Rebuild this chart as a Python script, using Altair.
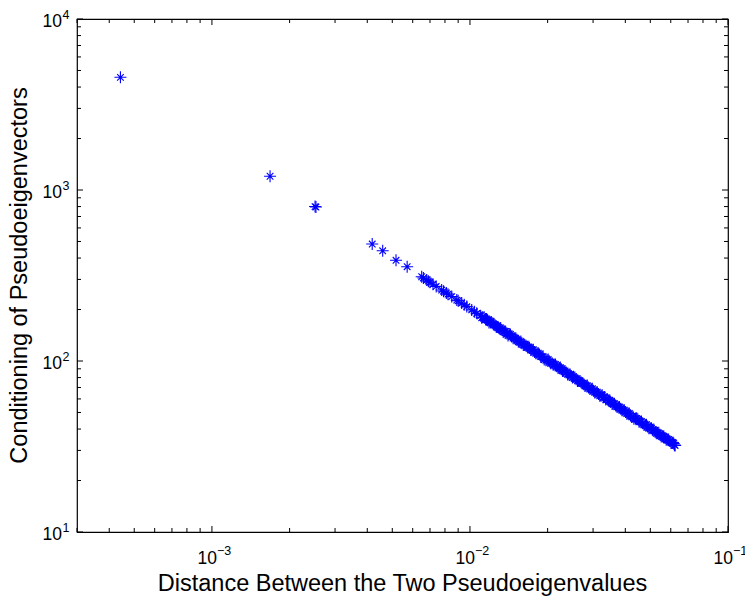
import altair as alt
import pandas as pd

# Distance between the two pseudoeigenvalues and conditioning of the pseudoeigenvectors
distance = [
    0.000442, 0.00168, 0.00251, 0.00253, 0.00418, 0.00459, 0.00517, 0.00571,
    0.00650, 0.00660, 0.00680, 0.00690, 0.00700, 0.00719, 0.00740, 0.00777,
    0.00790, 0.00810, 0.00822, 0.00850, 0.00889, 0.00900, 0.00929, 0.00950,
    0.00972, 0.01016, 0.01040, 0.01062,
    0.0110, 0.0112, 0.0115, 0.0117, 0.0120, 0.0122, 0.0125, 0.0128, 0.0129, 0.0130,
    0.0133, 0.0136, 0.0139, 0.0142, 0.0145, 0.0149, 0.0152, 0.0156, 0.0159, 0.0163,
    0.0165, 0.0167, 0.0170, 0.0174, 0.0178, 0.0182, 0.0186, 0.0190, 0.0194, 0.0199,
    0.0203, 0.0208, 0.0210, 0.0212, 0.0217, 0.0222, 0.0226, 0.0231, 0.0236, 0.0242,
    0.0247, 0.0252, 0.0258, 0.0264, 0.0270, 0.0273, 0.0276, 0.0282, 0.0288, 0.0295,
    0.0301, 0.0308, 0.0315, 0.0322, 0.0329, 0.0336, 0.0344, 0.0348, 0.0351, 0.0359,
    0.0367, 0.0375, 0.0384, 0.0392, 0.0401, 0.0410, 0.0419, 0.0428, 0.0432, 0.0438,
    0.0447, 0.0457, 0.0467, 0.0478, 0.0488, 0.0499, 0.0505, 0.0510, 0.0522, 0.0533,
    0.0545, 0.0557, 0.0563, 0.0570, 0.0582, 0.0595, 0.0608, 0.0616, 0.0624,
    0.0111, 0.01135, 0.0116, 0.01185, 0.0121, 0.01235, 0.01265, 0.01315, 0.01345,
    0.01375, 0.01405, 0.01435, 0.0147, 0.01505, 0.0154, 0.01575, 0.0161, 0.0169,
    0.0172, 0.0176, 0.0180, 0.0184, 0.0188, 0.0192, 0.0197, 0.0201, 0.02055,
    0.02145, 0.02195, 0.0224, 0.02285, 0.02335, 0.0239, 0.02445, 0.02495, 0.0255,
    0.0261, 0.0267, 0.0279, 0.0285, 0.02915, 0.0298, 0.03045, 0.03115, 0.03185,
    0.03255, 0.03325, 0.0340, 0.03555, 0.0363, 0.0371, 0.03795, 0.0388, 0.03965,
    0.04055, 0.04145, 0.04235, 0.04425, 0.0452, 0.0462, 0.04725, 0.0483, 0.04935,
    0.05155, 0.05275, 0.0539, 0.0551, 0.05635, 0.0576, 0.05885, 0.06015, 0.0612,
    0.0620,
]
conditioning = [
    4560, 1203, 800, 795, 483, 441, 388, 356,
    311, 306, 298, 293, 289, 281, 273, 260,
    256, 250, 246, 238, 227, 225, 218, 213,
    208, 199, 194, 190,
    184, 180, 176, 173, 168, 166, 162, 158, 157, 155,
    152, 149, 145, 144, 139, 136, 133, 129, 127, 124,
    123, 121, 119, 116, 113, 111, 109, 106, 102, 101.5,
    99.5, 97, 95, 95.3, 93.1, 91, 89.4, 87.4, 85.6, 83.5,
    81.8, 81.0, 78.3, 76.5, 74.8, 74.0, 73.2, 71.6, 70.1, 68.5,
    67.1, 65.6, 64.1, 62.7, 61.4, 59.5, 58.7, 58.9, 57.5, 56.3,
    55.0, 53.9, 52.6, 51.5, 50.4, 49.3, 48.2, 47.2, 46.0, 46.1,
    45.6, 44.2, 43.3, 42.3, 41.4, 40.5, 40.4, 39.6, 38.4, 37.9,
    37.1, 36.3, 35.8, 35.4, 34.7, 34.0, 33.2, 32.9, 32.1,
    179, 180, 176, 168, 169, 165, 158, 156, 148,
    149, 141, 143, 136, 136, 129.5, 130, 124, 121,
    116, 116.5, 111, 111, 106, 106.5, 101, 102, 97,
    95.5, 91, 91.5, 87.5, 87.5, 83.5, 83.5, 80, 80,
    76.5, 76.5, 71.5, 71.8, 68.5, 68.8, 65.5, 65.7, 62.6,
    63, 61.5, 60, 56.1, 56.3, 54, 53.8, 51.5, 51.5,
    49.2, 49.3, 47.1, 46.2, 44.1, 44.3, 42.2, 42.4, 40.4,
    39.7, 37.8, 38, 36.2, 36.3, 34.6, 34.8, 33.2, 33.4,
    32.2,
]

# Axis ticks and their labels
x_major = [1e-3, 1e-2, 1e-1]
x_major_exp = ["\u22123", "\u22122", "\u22121"]
x_minor = [3e-4, 4e-4, 5e-4, 6e-4, 7e-4, 8e-4, 9e-4,
           2e-3, 3e-3, 4e-3, 5e-3, 6e-3, 7e-3, 8e-3, 9e-3,
           2e-2, 3e-2, 4e-2, 5e-2, 6e-2, 7e-2, 8e-2, 9e-2]
y_major = [10, 100, 1000, 10000]
y_major_exp = ["1", "2", "3", "4"]
y_minor = [20, 30, 40, 50, 60, 70, 80, 90,
           200, 300, 400, 500, 600, 700, 800, 900,
           2000, 3000, 4000, 5000, 6000, 7000, 8000, 9000]

x_title = "Distance Between the Two Pseudoeigenvalues"
y_title = "Conditioning of Pseudoeigenvectors"

W, H = 651, 513
FONT = "Liberation Sans"
MAJOR_LEN, MINOR_LEN = 6, 4

xs = alt.Scale(type="log", domain=[3e-4, 1e-1], nice=False)
ys = alt.Scale(type="log", domain=[10, 1e4], nice=False)

# asterisk marker: plus with shorter diagonals
star = "M-1,0L1,0M0,-1L0,1M-0.55,-0.55L0.55,0.55M-0.55,0.55L0.55,-0.55"

points = alt.Chart(pd.DataFrame({"d": distance, "c": conditioning})).mark_point(
    shape=star, size=144, filled=False, color="#0000ff", strokeWidth=1.1, opacity=1
).encode(
    x=alt.X("d:Q", scale=xs, axis=None),
    y=alt.Y("c:Q", scale=ys, axis=None),
)


def x_ticks(values, length):
    base = alt.Chart(pd.DataFrame({"v": values})).mark_rule(color="black", strokeWidth=1)
    xe = alt.X("v:Q", scale=xs, axis=None)
    return [
        base.encode(x=xe, y=alt.value(H), y2=alt.value(H - length)),
        base.encode(x=xe, y=alt.value(0), y2=alt.value(length)),
    ]


def y_ticks(values, length):
    base = alt.Chart(pd.DataFrame({"v": values})).mark_rule(color="black", strokeWidth=1)
    ye = alt.Y("v:Q", scale=ys, axis=None)
    return [
        base.encode(y=ye, x=alt.value(0), x2=alt.value(length)),
        base.encode(y=ye, x=alt.value(W), x2=alt.value(W - length)),
    ]


tick_layers = (x_ticks(x_major, MAJOR_LEN) + x_ticks(x_minor, MINOR_LEN)
               + y_ticks(y_major, MAJOR_LEN) + y_ticks(y_minor, MINOR_LEN))

xlab = pd.DataFrame({"v": x_major, "e": x_major_exp, "b": ["10"] * len(x_major)})
ylab = pd.DataFrame({"v": y_major, "e": y_major_exp, "b": ["10"] * len(y_major)})

x_base = alt.Chart(xlab).mark_text(
    font=FONT, fontSize=17.5, align="right", baseline="alphabetic", dx=5, color="black"
).encode(x=alt.X("v:Q", scale=xs, axis=None), y=alt.value(H + 32), text="b:N")
x_exp = alt.Chart(xlab).mark_text(
    font=FONT, fontSize=12.5, align="left", baseline="alphabetic", dx=5, color="black"
).encode(x=alt.X("v:Q", scale=xs, axis=None), y=alt.value(H + 23), text="e:N")

y_base = alt.Chart(ylab).mark_text(
    font=FONT, fontSize=17.5, align="right", baseline="alphabetic", dy=8, color="black"
).encode(y=alt.Y("v:Q", scale=ys, axis=None), x=alt.value(-15), text="b:N")
y_exp = alt.Chart(ylab).mark_text(
    font=FONT, fontSize=12.5, align="left", baseline="alphabetic", dy=0, color="black"
).encode(y=alt.Y("v:Q", scale=ys, axis=None), x=alt.value(-14.5), text="e:N")

x_title_mark = alt.Chart(pd.DataFrame({"t": [x_title]})).mark_text(
    font=FONT, fontSize=23.5, align="center", baseline="alphabetic", color="black"
).encode(x=alt.value(W / 2), y=alt.value(H + 58.5), text="t:N")
y_title_mark = alt.Chart(pd.DataFrame({"t": [y_title]})).mark_text(
    font=FONT, fontSize=23.5, align="center", baseline="alphabetic", angle=270, color="black"
).encode(x=alt.value(-50), y=alt.value(H / 2), text="t:N")

chart = alt.layer(
    points, *tick_layers, x_base, x_exp, y_base, y_exp, x_title_mark, y_title_mark
).properties(
    width=W,
    height=H,
    autosize="none",
    padding={"left": 77, "top": 19, "right": 17, "bottom": 67},
    background="white",
).configure_view(stroke="black", strokeWidth=1.2)

chart.save("out.html", embed_options={"renderer": "svg", "actions": False})
